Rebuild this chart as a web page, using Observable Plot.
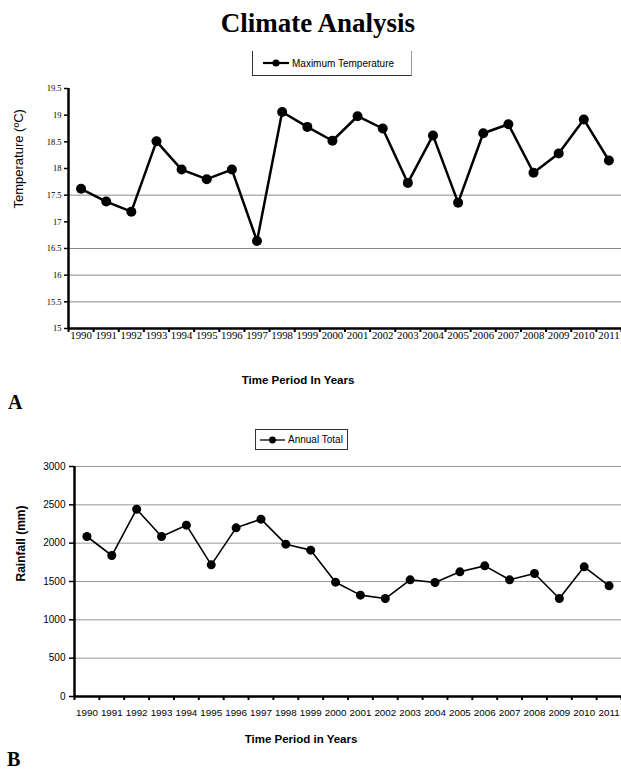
<!DOCTYPE html>
<html><head><meta charset="utf-8">
<script src="https://cdn.jsdelivr.net/npm/d3@7"></script>
<script src="https://cdn.jsdelivr.net/npm/@observablehq/plot@0.6"></script>
<style>
body{margin:0;background:#fff;}
#page{position:relative;width:621px;height:774px;overflow:hidden;font-family:"Liberation Sans",Arial,sans-serif;color:#000;}
.abs{position:absolute;}
#title{left:0;top:9px;width:621px;padding-left:15px;box-sizing:border-box;text-align:center;font-family:"Liberation Serif",serif;font-weight:bold;font-size:27px;line-height:28px;}
.panel{font-family:"Liberation Serif",serif;font-weight:bold;font-size:20px;line-height:16px;}
.legend{display:flex;align-items:center;box-sizing:border-box;background:#fff;font-size:10px;}
#legA{left:252px;top:51px;width:160px;height:25px;border-left:1px solid #333;border-bottom:1px solid #333;border-right:1px solid #999;padding-left:10px;}
#legB{left:255px;top:429px;width:93px;height:21px;border:1px solid #333;padding-left:4px;}
.legend svg{margin-right:3px;}
</style></head><body>
<div id="page">
  <div id="title" class="abs">Climate Analysis</div>
  <div id="legA" class="abs legend"></div>
  <div id="chartA" class="abs" style="left:0;top:80px;"></div>
  <div class="abs panel" style="left:8px;top:394px;">A</div>
  <div id="legB" class="abs legend"></div>
  <div id="chartB" class="abs" style="left:0;top:455px;"></div>
  <div class="abs panel" style="left:7px;top:751px;">B</div>
</div>
<script>
const years = [1990,1991,1992,1993,1994,1995,1996,1997,1998,1999,2000,2001,2002,2003,2004,2005,2006,2007,2008,2009,2010,2011];
const maxTemp = [17.62,17.38,17.19,18.51,17.98,17.80,17.98,16.64,19.06,18.78,18.52,18.98,18.75,17.73,18.62,17.36,18.66,18.83,17.92,18.28,18.92,18.15];
const rainfall = [2087,1839,2443,2087,2235,1717,2200,2313,1987,1909,1491,1322,1278,1522,1487,1626,1704,1522,1604,1278,1691,1443];
const tempTicks = [15,15.5,16,16.5,17,17.5,18,18.5,19,19.5];
const tempGrid = [15.5,16,16.5,17.5];
const rainTicks = [0,500,1000,1500,2000,2500,3000];
const rainGrid = [500,1000,1500,2000,2500,3000];
const legendA = "Maximum Temperature";
const legendB = "Annual Total";

const tempData = years.map((year, i) => ({year, value: maxTemp[i]}));
const rainData = years.map((year, i) => ({year, value: rainfall[i]}));
const bounds = years.map(y => y - 0.5).concat([years[years.length - 1] + 0.5]);
const xDomain = [bounds[0], bounds[bounds.length - 1]];

function marker(w, r, sw) {
  return `<svg width="${w}" height="12"><line x1="0" y1="6" x2="${w}" y2="6" stroke="#000" stroke-width="${sw}"/><circle cx="${w/2}" cy="6" r="${r}" fill="#000"/></svg>`;
}
document.getElementById("legA").innerHTML = marker(26, 3.6, 2.2) + `<span>${legendA}</span>`;
document.getElementById("legB").innerHTML = marker(25, 3.4, 1.3) + `<span>${legendB}</span>`;

const chartA = Plot.plot({
  width: 621, height: 315,
  marginTop: 8, marginBottom: 67, marginLeft: 68, marginRight: 0,
  style: {background: "transparent", overflow: "visible", color: "#000"},
  x: {domain: xDomain, axis: null, label: null},
  y: {domain: [15, 19.5], axis: null, label: null},
  marks: [
    Plot.ruleY(tempGrid, {stroke: "#8a8a8a", strokeWidth: 1}),
    Plot.axisX({ticks: bounds, tickSize: 4, tickFormat: () => "", strokeWidth: 2, label: null}),
    Plot.axisX({ticks: years, tickSize: 0, tickPadding: 3, tickFormat: d => String(d), fontSize: 10.8, fontFamily: "Liberation Serif", label: null}),
    Plot.axisY({ticks: tempTicks, tickSize: 4, tickPadding: 3, strokeWidth: 1.5, tickFormat: d => String(d), fontSize: 8.5, fontFamily: "Liberation Serif", label: null}),
    Plot.ruleY([15], {stroke: "#000", strokeWidth: 2.5}),
    Plot.ruleX([bounds[0]], {stroke: "#000", strokeWidth: 2.5}),
    Plot.line(tempData, {x: "year", y: "value", stroke: "#000", strokeWidth: 2.5}),
    Plot.dot(tempData, {x: "year", y: "value", r: 5, fill: "#000", stroke: null}),
    Plot.text(["Temperature (ºC)"], {frameAnchor: "left", dx: -50, rotate: -90, fontSize: 13, fontFamily: "Liberation Sans", fill: "#000"}),
    Plot.text(["Time Period In Years"], {frameAnchor: "bottom", dx: -47, dy: 55, fontSize: 11.5, fontWeight: "bold", fontFamily: "Liberation Sans", fill: "#000"})
  ]
});
document.getElementById("chartA").append(chartA);

const chartB = Plot.plot({
  width: 621, height: 300,
  marginTop: 11, marginBottom: 59, marginLeft: 74, marginRight: 0,
  style: {background: "transparent", overflow: "visible", color: "#000"},
  x: {domain: xDomain, axis: null, label: null},
  y: {domain: [0, 3000], axis: null, label: null},
  marks: [
    Plot.ruleY(rainGrid, {stroke: "#999", strokeWidth: 1}),
    Plot.axisX({ticks: bounds, tickSize: 4, tickFormat: () => "", strokeWidth: 2, label: null}),
    Plot.axisX({ticks: years, tickSize: 0, tickPadding: 13, tickFormat: d => String(d), fontSize: 9.8, fontFamily: "Liberation Sans", label: null}),
    Plot.axisY({ticks: rainTicks, tickSize: 5, tickPadding: 4, strokeWidth: 1.5, tickFormat: d => String(d), fontSize: 10, fontFamily: "Liberation Sans", label: null}),
    Plot.ruleY([0], {stroke: "#000", strokeWidth: 2.5}),
    Plot.ruleX([bounds[0]], {stroke: "#000", strokeWidth: 2.5}),
    Plot.line(rainData, {x: "year", y: "value", stroke: "#000", strokeWidth: 1.6}),
    Plot.dot(rainData, {x: "year", y: "value", r: 4.5, fill: "#000", stroke: null}),
    Plot.text(["Rainfall (mm)"], {frameAnchor: "left", dx: -53, rotate: -90, fontSize: 12, fontWeight: "bold", fontFamily: "Liberation Sans", fill: "#000"}),
    Plot.text(["Time Period in Years"], {frameAnchor: "bottom", dx: -47, dy: 46, fontSize: 11.5, fontWeight: "bold", fontFamily: "Liberation Sans", fill: "#000"})
  ]
});
document.getElementById("chartB").append(chartB);
</script>
</body></html>
